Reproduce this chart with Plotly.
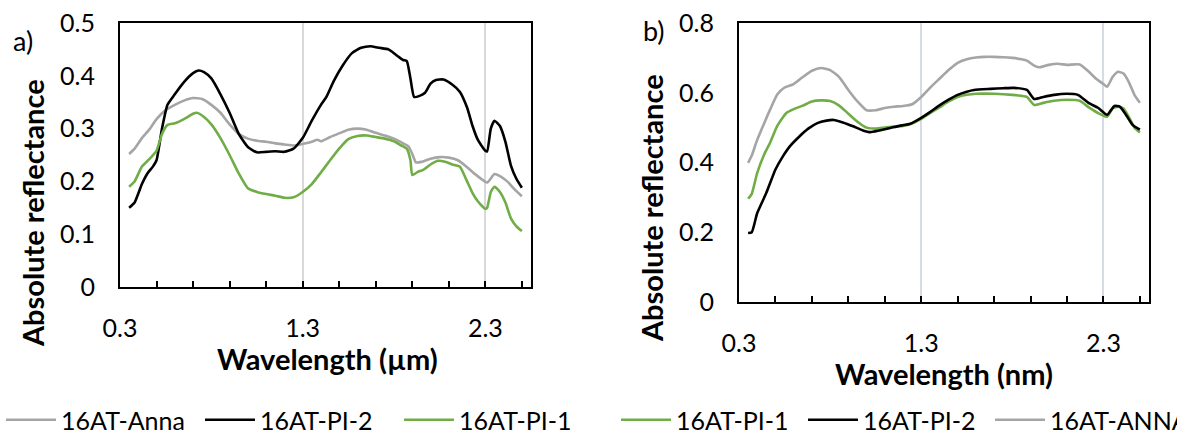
import plotly.graph_objects as go

W, H = 1190, 436

# ---------------- data ----------------
# panel a) wavelength in micrometres
a_anna_x = [0.35,0.38,0.42,0.46,0.50,0.55,0.60,0.65,0.70,0.75,0.80,0.85,0.90,0.95,1.00,1.05,1.10,1.15,1.20,1.25,1.30,1.35,1.38,1.40,1.45,1.50,1.55,1.60,1.65,1.70,1.75,1.80,1.85,1.88,1.90,1.92,1.95,2.00,2.05,2.10,2.15,2.20,2.25,2.31,2.35,2.38,2.42,2.46,2.50]
a_anna_y = [0.252,0.262,0.282,0.298,0.318,0.335,0.345,0.353,0.358,0.356,0.345,0.330,0.308,0.290,0.281,0.277,0.275,0.272,0.270,0.268,0.271,0.275,0.279,0.276,0.284,0.291,0.298,0.300,0.298,0.292,0.287,0.281,0.272,0.266,0.252,0.236,0.237,0.243,0.246,0.245,0.240,0.227,0.212,0.198,0.214,0.210,0.200,0.185,0.172]

a_pi2_x = [0.35,0.38,0.42,0.45,0.48,0.50,0.53,0.56,0.60,0.65,0.70,0.73,0.76,0.80,0.85,0.90,0.95,1.00,1.05,1.10,1.15,1.20,1.25,1.30,1.35,1.40,1.43,1.47,1.52,1.57,1.62,1.67,1.72,1.77,1.81,1.85,1.87,1.89,1.91,1.94,1.97,2.00,2.03,2.07,2.12,2.16,2.20,2.23,2.26,2.30,2.31,2.33,2.35,2.38,2.41,2.44,2.47,2.50]
a_pi2_y = [0.150,0.160,0.195,0.215,0.228,0.240,0.300,0.345,0.365,0.388,0.405,0.410,0.407,0.395,0.365,0.330,0.290,0.265,0.255,0.256,0.257,0.256,0.262,0.282,0.315,0.345,0.360,0.390,0.420,0.443,0.453,0.456,0.453,0.450,0.440,0.430,0.428,0.395,0.360,0.362,0.368,0.385,0.392,0.393,0.383,0.370,0.340,0.305,0.278,0.258,0.257,0.300,0.315,0.305,0.275,0.230,0.205,0.188]

a_pi1_x = [0.35,0.38,0.42,0.46,0.50,0.53,0.56,0.60,0.65,0.70,0.72,0.76,0.80,0.85,0.90,0.95,1.00,1.05,1.10,1.15,1.20,1.25,1.30,1.35,1.40,1.45,1.50,1.55,1.60,1.65,1.70,1.75,1.80,1.84,1.87,1.89,1.90,1.93,1.96,2.00,2.04,2.08,2.12,2.16,2.20,2.23,2.26,2.30,2.31,2.33,2.35,2.38,2.41,2.44,2.47,2.50]
a_pi1_y = [0.190,0.200,0.228,0.242,0.258,0.290,0.307,0.310,0.318,0.328,0.330,0.322,0.308,0.282,0.250,0.215,0.187,0.180,0.176,0.173,0.169,0.170,0.180,0.195,0.217,0.240,0.262,0.280,0.286,0.287,0.284,0.281,0.276,0.268,0.262,0.240,0.212,0.218,0.222,0.232,0.239,0.237,0.232,0.228,0.200,0.178,0.162,0.148,0.150,0.180,0.190,0.180,0.160,0.130,0.115,0.106]

# panel b)
b_pi1_x = [0.35,0.37,0.40,0.44,0.47,0.51,0.56,0.60,0.65,0.70,0.75,0.80,0.85,0.90,0.95,1.00,1.05,1.10,1.15,1.20,1.25,1.30,1.35,1.40,1.45,1.50,1.55,1.60,1.70,1.80,1.85,1.88,1.92,1.97,2.03,2.10,2.17,2.22,2.27,2.32,2.35,2.38,2.41,2.44,2.47,2.50]
b_pi1_y = [0.296,0.310,0.370,0.425,0.456,0.505,0.542,0.553,0.563,0.575,0.578,0.576,0.563,0.540,0.517,0.500,0.497,0.500,0.503,0.505,0.512,0.525,0.542,0.558,0.575,0.588,0.594,0.597,0.597,0.594,0.591,0.588,0.565,0.571,0.577,0.580,0.577,0.558,0.542,0.531,0.555,0.560,0.555,0.530,0.500,0.486]

b_pi2_x = [0.35,0.37,0.40,0.45,0.50,0.54,0.58,0.63,0.68,0.73,0.78,0.82,0.87,0.93,0.98,1.02,1.07,1.13,1.18,1.24,1.30,1.35,1.39,1.45,1.50,1.55,1.59,1.68,1.75,1.81,1.88,1.92,1.97,2.03,2.10,2.16,2.22,2.27,2.32,2.36,2.39,2.42,2.46,2.50]
b_pi2_y = [0.198,0.200,0.255,0.313,0.380,0.417,0.447,0.474,0.497,0.513,0.520,0.522,0.515,0.503,0.492,0.487,0.492,0.499,0.505,0.511,0.528,0.545,0.560,0.580,0.594,0.603,0.608,0.611,0.613,0.614,0.608,0.582,0.588,0.594,0.597,0.594,0.570,0.557,0.537,0.562,0.560,0.540,0.508,0.494]

b_anna_x = [0.35,0.37,0.40,0.44,0.47,0.51,0.55,0.60,0.65,0.70,0.75,0.80,0.85,0.90,0.95,1.00,1.05,1.10,1.15,1.20,1.25,1.30,1.35,1.40,1.45,1.50,1.55,1.60,1.65,1.70,1.75,1.80,1.85,1.88,1.92,1.95,2.00,2.05,2.10,2.17,2.22,2.26,2.30,2.32,2.35,2.38,2.41,2.44,2.47,2.50]
b_anna_y = [0.399,0.420,0.465,0.515,0.551,0.595,0.615,0.625,0.645,0.663,0.671,0.665,0.645,0.608,0.575,0.550,0.550,0.556,0.560,0.562,0.567,0.588,0.615,0.640,0.665,0.686,0.696,0.701,0.703,0.703,0.702,0.700,0.696,0.692,0.678,0.673,0.680,0.683,0.680,0.681,0.660,0.640,0.625,0.617,0.645,0.660,0.655,0.630,0.594,0.571]

x_ticks = [0.3, 1.3, 2.3]
names_a = ["16AT-Anna", "16AT-PI-2", "16AT-PI-1"]
names_b = ["16AT-PI-1", "16AT-PI-2", "16AT-ANNA"]

GRAY, BLACK, GREEN = "#A5A5A5", "#000000", "#70AD47"
FONT = "Lato"

def px(x):
    return x / W

def py(y):
    return 1 - y / H

fig = go.Figure()
line_kw = dict(mode="lines", line_shape="spline")
fig.add_trace(go.Scatter(x=a_anna_x, y=a_anna_y, name=names_a[0], line=dict(color=GRAY, width=2.6, smoothing=0.5), xaxis="x", yaxis="y", legend="legend", **line_kw))
fig.add_trace(go.Scatter(x=a_pi2_x, y=a_pi2_y, name=names_a[1], line=dict(color=BLACK, width=2.6, smoothing=0.5), xaxis="x", yaxis="y", legend="legend", **line_kw))
fig.add_trace(go.Scatter(x=a_pi1_x, y=a_pi1_y, name=names_a[2], line=dict(color=GREEN, width=2.6, smoothing=0.5), xaxis="x", yaxis="y", legend="legend", **line_kw))
fig.add_trace(go.Scatter(x=b_pi1_x, y=b_pi1_y, name=names_b[0], line=dict(color=GREEN, width=2.6, smoothing=0.5), xaxis="x2", yaxis="y2", legend="legend2", **line_kw))
fig.add_trace(go.Scatter(x=b_pi2_x, y=b_pi2_y, name=names_b[1], line=dict(color=BLACK, width=2.6, smoothing=0.5), xaxis="x2", yaxis="y2", legend="legend2", **line_kw))
fig.add_trace(go.Scatter(x=b_anna_x, y=b_anna_y, name=names_b[2], line=dict(color=GRAY, width=2.6, smoothing=0.5), xaxis="x2", yaxis="y2", legend="legend2", **line_kw))

tickfont = dict(family=FONT, size=25, color="#000000")

def xaxis(domain, anchor, gridcolor):
    return dict(domain=domain, anchor=anchor, range=[0.3, 2.55], tickmode="array",
                tickvals=x_ticks, ticktext=[f"{v:.1f}" for v in x_ticks],
                ticks="inside", ticklen=6, tickwidth=1.5, tickcolor="#000",
                minor=dict(dtick=0.2, tick0=0.3, ticks="inside", ticklen=6, tickwidth=1.5, tickcolor="#000", showgrid=False),
                showgrid=True, gridcolor=gridcolor, gridwidth=2,
                showline=True, linecolor="#000", linewidth=2, mirror=True,
                zeroline=False, tickfont=tickfont, ticklabelstandoff=18, automargin=False)

def yaxis(domain, anchor, rng, dt):
    return dict(domain=domain, anchor=anchor, range=rng, dtick=dt, tick0=0,
                ticks="", showgrid=False, zeroline=False,
                showline=True, linecolor="#000", linewidth=2, mirror=True,
                tickfont=tickfont, ticklabelstandoff=18, automargin=False)

def yright(over, anchor, domain, rng, dt):
    return dict(overlaying=over, anchor=anchor, side="right", domain=domain, range=rng, dtick=dt, tick0=0,
                ticks="inside", ticklen=8, tickwidth=1.5, tickcolor="#000",
                showticklabels=False, showgrid=False, zeroline=False, showline=False, automargin=False)

dom_ax = [px(120), px(531)]
dom_ay = [py(287), py(23)]
dom_bx = [px(739), px(1149)]
dom_by = [py(302), py(23)]

legfont = dict(family=FONT, size=25, color="#000")
fig.update_layout(
    width=W, height=H, margin=dict(l=0, r=0, t=0, b=0, autoexpand=False),
    paper_bgcolor="white", plot_bgcolor="white",
    font=dict(family=FONT, size=25, color="#000"),
    xaxis=xaxis(dom_ax, "y", "#D9D9D9"),
    yaxis=yaxis(dom_ay, "x", [0, 0.5], 0.1),
    yaxis3=yright("y", "x", dom_ay, [0, 0.5], 0.1),
    xaxis2=xaxis(dom_bx, "y2", "#D6DCE5"),
    yaxis2=yaxis(dom_by, "x2", [0, 0.8], 0.2),
    yaxis4=yright("y2", "x2", dom_by, [0, 0.8], 0.2),
    legend=dict(orientation="h", x=px(1), y=py(420), xanchor="left", yanchor="middle",
                font=legfont, itemwidth=50, borderwidth=0,
                entrywidth=134, entrywidthmode="pixels", bgcolor="rgba(0,0,0,0)", tracegroupgap=0),
    legend2=dict(orientation="h", x=px(616), y=py(420), xanchor="left", yanchor="middle",
                 font=legfont, itemwidth=50, borderwidth=0,
                 entrywidth=122, entrywidthmode="pixels", bgcolor="rgba(0,0,0,0)", tracegroupgap=0),
    showlegend=True,
)

bold = dict(family=FONT, size=29, color="#000")
ann = [
    dict(text="<b>Absolute reflectance</b>", x=px(32), y=py(213), textangle=-90, font=bold),
    dict(text="<b>Absolute reflectance</b>", x=px(651), y=py(208), textangle=-90, font=bold),
    dict(text="<b>Wavelength (µm)</b>", x=px(327), y=py(358), font=bold),
    dict(text="<b>Wavelength (nm)</b>", x=px(944), y=py(373), font=bold),
    dict(text="a)", x=px(23), y=py(40), font=dict(family=FONT, size=27, color="#000")),
    dict(text="b)", x=px(654), y=py(30), font=dict(family=FONT, size=27, color="#000")),
]
for a in ann:
    a.update(xref="paper", yref="paper", showarrow=False, xanchor="center", yanchor="middle")
fig.update_layout(annotations=ann)

fig.write_html("out.html", config={"displayModeBar": False},
               post_script="document.body.style.margin='0';document.body.style.overflow='hidden';")
